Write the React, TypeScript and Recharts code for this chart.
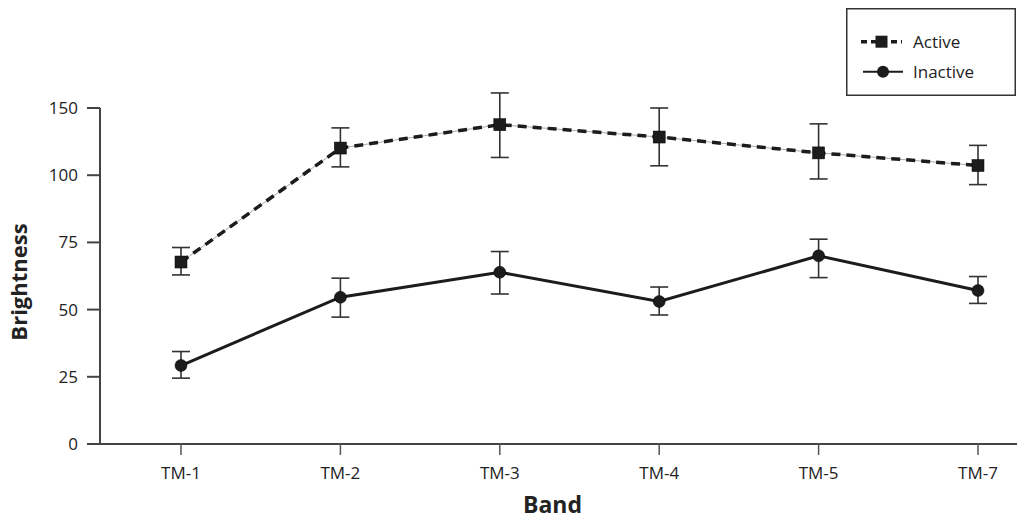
import React from 'react';
import { LineChart, Line, XAxis, YAxis, ErrorBar, Legend } from 'recharts';

const categories = ['TM-1', 'TM-2', 'TM-3', 'TM-4', 'TM-5', 'TM-7'];

const activeMean = [67.7, 110.1, 118.8, 114.2, 108.3, 103.6];
const activeUpper = [73.1, 117.6, 130.6, 125.0, 119.1, 111.1];
const activeLower = [62.9, 103.1, 106.6, 103.5, 98.6, 96.5];

const inactiveMean = [29.2, 54.6, 63.9, 53.0, 70.0, 57.1];
const inactiveUpper = [34.4, 61.7, 71.6, 58.4, 76.2, 62.3];
const inactiveLower = [24.5, 47.2, 55.8, 48.0, 61.9, 52.3];

const yTicks = [0, 25, 50, 75, 100, 125];
const yTickLabels = ['0', '25', '50', '75', '100', '150'];

const legendLabels = ['Active', 'Inactive'];

const data = categories.map((band, i) => ({
  band,
  active: activeMean[i],
  activeErr: [activeMean[i] - activeLower[i], activeUpper[i] - activeMean[i]],
  inactive: inactiveMean[i],
  inactiveErr: [inactiveMean[i] - inactiveLower[i], inactiveUpper[i] - inactiveMean[i]],
}));

const FONT = '"Open Sans", "Noto Sans", sans-serif';
const INK = '#1c1c1c';
const AXIS = '#444';

const squareDot = (p: any) => {
  if (p.cx == null || p.cy == null) return <g key={`s${p.index}`} />;
  return (
    <rect
      key={`s${p.index}`}
      x={p.cx - 6}
      y={p.cy - 6}
      width={12}
      height={12}
      fill={INK}
      stroke="#000"
      strokeWidth={0.5}
    />
  );
};

const circleDot = (p: any) => {
  if (p.cx == null || p.cy == null) return <g key={`c${p.index}`} />;
  return <circle key={`c${p.index}`} cx={p.cx} cy={p.cy} r={6} fill={INK} stroke="#000" strokeWidth={0.5} />;
};

const LegendBox = () => (
  <svg width={170} height={88} style={{ display: 'block' }}>
    <rect x={0.75} y={0.75} width={168.5} height={86.5} fill="#fff" stroke="#333" strokeWidth={1.5} />
    <line x1={15} x2={56} y1={33.7} y2={33.7} stroke={INK} strokeWidth={3.5} strokeDasharray="6 4" />
    <rect x={29.5} y={27.7} width={12} height={12} fill={INK} />
    <text x={67} y={39.7} fontFamily={FONT} fontSize={17} fill="#222">
      {legendLabels[0]}
    </text>
    <line x1={17} x2={57} y1={63.7} y2={63.7} stroke={INK} strokeWidth={2} />
    <circle cx={37} cy={63.7} r={6} fill={INK} />
    <text x={67} y={69.7} fontFamily={FONT} fontSize={17} fill="#222">
      {legendLabels[1]}
    </text>
  </svg>
);

const YLabel = (props: any) => {
  const vb = props.viewBox || { x: 40, y: 108, width: 60, height: 336 };
  const x = vb.x - 13;
  const y = vb.y + vb.height / 2 + 6;
  return (
    <text
      x={x}
      y={y}
      transform={`rotate(-90, ${x}, ${y})`}
      textAnchor="middle"
      fontFamily={FONT}
      fontWeight={700}
      fontSize={22}
      fill="#222"
    >
      Brightness
    </text>
  );
};

const XLabel = (props: any) => {
  const vb = props.viewBox || { x: 100, y: 444, width: 917, height: 78 };
  const x = vb.x + vb.width / 2 - 6;
  const y = vb.y + vb.height - 9;
  return (
    <text x={x} y={y} textAnchor="middle" fontFamily={FONT} fontWeight={700} fontSize={23} fill="#222">
      Band
    </text>
  );
};

export default function App() {
  return (
    <div style={{ position: 'absolute', left: 0, top: 0, width: 1024, height: 522, background: '#fff' }}>
      <LineChart
        width={1024}
        height={522}
        data={data}
        margin={{ top: 108, right: 7, bottom: 0, left: 40 }}
      >
        <XAxis
          dataKey="band"
          type="category"
          scale="point"
          padding={{ left: 81, right: 39 }}
          height={78}
          tickSize={11}
          tickMargin={12}
          interval={0}
          axisLine={{ stroke: AXIS, strokeWidth: 2 }}
          tickLine={{ stroke: '#555', strokeWidth: 1.5 }}
          tick={{ fill: '#222', fontSize: 17, fontFamily: FONT }}
          label={{ content: XLabel }}
        />
        <YAxis
          type="number"
          domain={[0, 125]}
          allowDataOverflow={true}
          ticks={yTicks}
          interval={0}
          width={60}
          tickSize={13}
          tickMargin={9}
          tickFormatter={(v: number) => yTickLabels[yTicks.indexOf(v)] ?? String(v)}
          axisLine={{ stroke: AXIS, strokeWidth: 2 }}
          tickLine={{ stroke: AXIS, strokeWidth: 2 }}
          tick={{ fill: '#222', fontSize: 17, fontFamily: FONT }}
          label={{ content: YLabel }}
        />
        <Legend
          layout="vertical"
          align="center"
          verticalAlign="middle"
          wrapperStyle={{ left: 846, top: 8, width: 170, height: 88 }}
          content={() => <LegendBox />}
        />
        <Line
          dataKey="inactive"
          name="Inactive"
          stroke={INK}
          strokeWidth={3}
          dot={circleDot}
          activeDot={false}
          isAnimationActive={false}
        >
          <ErrorBar dataKey="inactiveErr" direction="y" width={9} stroke="#333" strokeWidth={1.6} />
        </Line>
        <Line
          dataKey="active"
          name="active-base"
          legendType="none"
          stroke="#aaa"
          strokeWidth={1}
          dot={false}
          activeDot={false}
          isAnimationActive={false}
        />
        <Line
          dataKey="active"
          name="Active"
          stroke={INK}
          strokeWidth={3.5}
          strokeDasharray="9 6"
          dot={squareDot}
          activeDot={false}
          isAnimationActive={false}
        >
          <ErrorBar dataKey="activeErr" direction="y" width={9} stroke="#333" strokeWidth={1.6} />
        </Line>
      </LineChart>
    </div>
  );
}
